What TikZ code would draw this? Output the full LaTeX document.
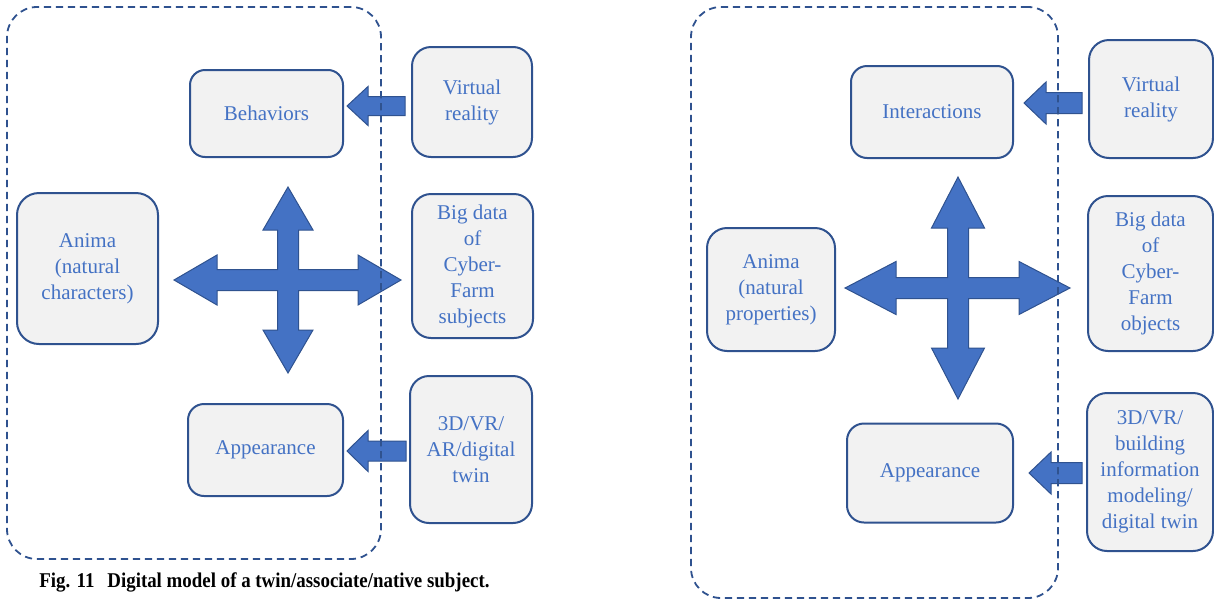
\documentclass[tikz,border=0pt]{standalone}
\usepackage{fontspec}
\setmainfont{Liberation Serif}
\usetikzlibrary{calc}

\definecolor{boxline}{HTML}{2F528F}
\definecolor{boxfill}{HTML}{F2F2F2}
\definecolor{arrowfill}{HTML}{4472C4}
\definecolor{labeltext}{HTML}{4472C4}

\tikzset{
  cell/.style n args={3}{draw=boxline, fill=boxfill, line width=1pt,
    text=labeltext, align=center, inner sep=0pt,
    font=\fontsize{10.5}{13}\selectfont,
    minimum width=#1*0.5pt, minimum height=#2*0.5pt,
    rounded corners=#3*0.5pt},
  frame/.style 2 args={draw=boxline, line width=0.9pt,
    dash pattern=on 3.6pt off 2.4pt, rounded corners=15pt,
    minimum width=#1*0.5pt, minimum height=#2*0.5pt, inner sep=0pt},
  blockarrow/.style={fill=arrowfill, draw=boxline, line width=0.5pt,
    line join=miter},
  caption/.style={font=\fontsize{10.5}{13}\bfseries, text=black,
    inner sep=0pt, anchor=base west},
}

% four-way block arrow: #1 centre, #2 left arm, #3 right arm,
% #4 vertical arm, #5 head length, #6 head half-width, #7 shaft half-width
\newcommand{\hubarrow}[7]{%
  \begin{scope}[shift={(#1)}]
    \draw[blockarrow] (-#2,0) -- (-#2+#5,-#6) -- (-#2+#5,-#7) -- (-#7,-#7)
      -- (-#7,-#4+#5) -- (-#6,-#4+#5) -- (0,-#4) -- (#6,-#4+#5) -- (#7,-#4+#5)
      -- (#7,-#7) -- (#3-#5,-#7) -- (#3-#5,-#6) -- (#3,0) -- (#3-#5,#6)
      -- (#3-#5,#7) -- (#7,#7) -- (#7,#4-#5) -- (#6,#4-#5) -- (0,#4)
      -- (-#6,#4-#5) -- (-#7,#4-#5) -- (-#7,#7) -- (-#2+#5,#7)
      -- (-#2+#5,#6) -- cycle;
  \end{scope}}

% left-pointing block arrow: #1 tail, #2 tip, #3 head length,
% #4 head half-width, #5 shaft half-width
\newcommand{\feedarrow}[5]{%
  \draw[blockarrow] (#2) -- ($(#2)+(#3,-#4)$) -- ($(#2)+(#3,-#5)$)
    -- ($(#1)+(0,-#5)$) -- ($(#1)+(0,#5)$) -- ($(#2)+(#3,#5)$)
    -- ($(#2)+(#3,#4)$) -- cycle;}

\begin{document}
\begin{tikzpicture}[x=0.5pt, y=-0.5pt]
\useasboundingbox (0,0) rectangle (1214,600);

% ---------- subject model ----------
\node[cell={153}{87}{15}]  (behL)   at (266.5,113.5) {Behaviors};
\node[cell={120}{110}{19}] (vrL)    at (472,102)     {Virtual\\reality};
\node[cell={141}{151}{22}] (animaL) at (87.5,268.5)  {Anima\\(natural\\characters)};
\node[cell={121}{144}{19}] (bigL)   at (472.5,266)   {Big data\\of\\Cyber-\\Farm\\subjects};
\node[cell={155}{92}{16}]  (appL)   at (265.5,450)   {Appearance};
\node[cell={122}{147}{19}] (tdL)    at (471,449.5)   {3D/VR/\\AR/digital\\twin};

\coordinate (hubL) at (288,280);
\hubarrow{hubL}{114}{113}{93}{43}{25}{10.5}

\coordinate (vrLtail)  at (405,106);
\coordinate (behLtip)  at (347,106);
\feedarrow{vrLtail}{behLtip}{21}{19.5}{9.5}
\coordinate (tdLtail)  at (406,451);
\coordinate (appLtip)  at (347,451);
\feedarrow{tdLtail}{appLtip}{21}{20.5}{10}

\node[frame={374}{552}] (frameL) at (194,283) {};

\node[caption] (figno)  at (39,587)  {\scalebox{0.9}[1]{Fig. 11}};
\node[caption] (figcap) at (107,587) {\scalebox{0.9}[1]{Digital model of a twin/associate/native subject.}};

% ---------- object model ----------
\node[cell={162}{92}{16}]  (interR) at (932,112)     {Interactions};
\node[cell={124}{118}{20}] (vrR)    at (1151,99)     {Virtual\\reality};
\node[cell={128}{123}{20}] (animaR) at (771,289.5)   {Anima\\(natural\\properties)};
\node[cell={125}{155}{20}] (bigR)   at (1150.5,273.5){Big data\\of\\Cyber-\\Farm\\objects};
\node[cell={166}{99}{17}]  (appR)   at (930,473)     {Appearance};
\node[cell={126}{158}{20}] (tdR)    at (1150,472)    {3D/VR/\\building\\information\\modeling/\\digital twin};

\coordinate (hubR) at (958,288);
\hubarrow{hubR}{113}{112}{111}{51}{26.5}{10.5}

\coordinate (vrRtail)    at (1082,103);
\coordinate (interRtip)  at (1024,103);
\feedarrow{vrRtail}{interRtip}{22}{21}{10.5}
\coordinate (tdRtail)    at (1082,473);
\coordinate (appRtip)    at (1029,473);
\feedarrow{tdRtail}{appRtip}{22}{21}{10.5}

\node[frame={367}{591}] (frameR) at (874.5,302.5) {};
\end{tikzpicture}
\end{document}
